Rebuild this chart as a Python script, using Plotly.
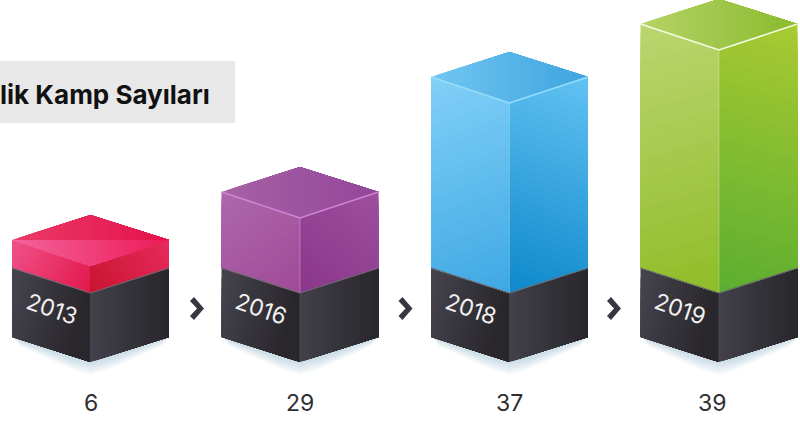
import plotly.graph_objects as go

# ---- data ----
years = ["2013", "2016", "2018", "2019"]
camp_counts = [6, 29, 37, 39]
drawn_heights = [27, 75, 190, 243]   # coloured block height as drawn (the artwork is not to scale)
title_text = "lik Kamp Sayıları"

# ---- styles / layout ----
W, H = 800, 421
FIRST_CX, STEP, HALF = 90.5, 209.5, 78.5
DEPTH = 26
JOIN_Y = 293      # front corner where colour meets dark base
BOTTOM_Y = 362
STRIPS = 30

styles = [
    dict(left=("#f0528a", "#e2184c"), right=("#e72a5c", "#c9142f"), top=("#ea3a68", "#e5124c"), rim=None),
    dict(left=("#ad68aa", "#a04a98"), right=("#9d4f9c", "#8a368c"), top=("#a862a5", "#92469a"), rim="#cf84d6"),
    dict(left=("#82d0f7", "#3ea8e4"), right=("#62c2f3", "#0e88ca"), top=("#72c6f1", "#3ea4e0"), rim="#97defb"),
    dict(left=("#bbd570", "#8fbd28"), right=("#a9ca32", "#5bae30"), top=("#b5d366", "#8abb2e"), rim="#f6fbe6"),
]
DARK_L = ("#46444e", "#29272b")
DARK_R = ("#42404a", "#29272b")


def rgb(h):
    return tuple(int(h[i:i + 2], 16) for i in (1, 3, 5))


def mix(c0, c1, t):
    a, b = rgb(c0), rgb(c1)
    return "rgb(%d,%d,%d)" % tuple(round(a[i] + (b[i] - a[i]) * t) for i in range(3))


def clip(poly, p0, d, lo):
    """Keep the part of poly whose projection on d is at least lo."""
    def f(p):
        return (p[0] - p0[0]) * d[0] + (p[1] - p0[1]) * d[1] - lo

    out = []
    for i in range(len(poly)):
        a, b = poly[i], poly[(i + 1) % len(poly)]
        fa, fb = f(a), f(b)
        if fa >= 0:
            out.append(a)
        if fa * fb < 0:
            t = fa / (fa - fb)
            out.append((a[0] + (b[0] - a[0]) * t, a[1] + (b[1] - a[1]) * t))
    return out


fig = go.Figure()


def poly_trace(pts, color):
    fig.add_trace(go.Scatter(
        x=[p[0] for p in pts] + [pts[0][0]],
        y=[p[1] for p in pts] + [pts[0][1]],
        mode="lines", fill="toself", fillcolor=color,
        line=dict(color=color, width=0),
        hoverinfo="skip", showlegend=False))


def face(poly, p0, p1, colors, n=STRIPS):
    """Painter's gradient: each band is drawn to the far end, the next one over it, so no seams show."""
    dx, dy = p1[0] - p0[0], p1[1] - p0[1]
    L2 = dx * dx + dy * dy
    d = (dx / L2, dy / L2)
    for k in range(n):
        pts = clip(poly, p0, d, k / n if k else -5)
        if len(pts) >= 3:
            poly_trace(pts, mix(colors[0], colors[1], (k + .5) / n))


def line(pts, color, width):
    fig.add_trace(go.Scatter(x=[p[0] for p in pts], y=[p[1] for p in pts], mode="lines",
                             line=dict(color=color, width=width),
                             hoverinfo="skip", showlegend=False))


for i, (yr, cnt, h) in enumerate(zip(years, camp_counts, drawn_heights)):
    st = styles[i]
    cx = FIRST_CX + i * STEP
    l, r = cx - HALF, cx + HALF
    front_top = JOIN_Y - h
    side_top = front_top - DEPTH
    back_top = side_top - DEPTH + 1
    side_join = JOIN_Y - DEPTH + 1
    side_bot = BOTTOM_Y - DEPTH + 1

    # soft shadow under the base
    for k in range(14):
        s = 1 - k / 13
        poly_trace([(l + 3 - 2 * s, side_bot), (l + 8, side_bot + 3 + 7 * s),
                    (cx - 20, BOTTOM_Y - 3 + 11 * s), (cx, BOTTOM_Y + 1 + 14 * s),
                    (cx + 20, BOTTOM_Y - 3 + 11 * s), (r - 8, side_bot + 3 + 7 * s),
                    (r - 3 + 5 * s, side_bot), (cx, side_bot)],
                   mix("#cfdfe8", "#ffffff", s ** 1.1))

    # dark base
    face([(l, side_join), (cx, JOIN_Y), (cx, BOTTOM_Y), (l, side_bot)],
         (l, side_join), (cx, side_join + 20), DARK_L)
    face([(cx, JOIN_Y), (r, side_join), (r, side_bot), (cx, BOTTOM_Y)],
         (cx, JOIN_Y), (r, JOIN_Y), DARK_R)

    # coloured block
    face([(l, side_top), (cx, front_top), (cx, JOIN_Y), (l, side_join)],
         (l, side_top), (cx, JOIN_Y), st["left"])
    face([(cx, front_top), (r, side_top), (r, side_join), (cx, JOIN_Y)],
         (r, side_top), (cx, JOIN_Y), st["right"])
    face([(l, side_top), (cx, back_top), (r, side_top), (cx, front_top)],
         (l, side_top), (r, side_top), st["top"])

    if i == 0:  # glossy lower half of the first lid
        face([(l, side_top), (r, side_top), (cx, front_top)],
             (l, side_top), (r, side_top), ("#f4649c", "#ec1a58"))

    if st["rim"]:
        line([(l, side_top), (cx, front_top), (r, side_top)], st["rim"], 1.6)
        line([(cx, front_top), (cx, JOIN_Y)], "rgba(255,255,255,0.28)", 1)
    line([(l, side_join), (cx, JOIN_Y), (r, side_join)], "#6b6a70", 1.1)
    line([(cx, JOIN_Y), (cx, BOTTOM_Y)], "rgba(90,88,98,0.45)", 1)

    fig.add_annotation(x=cx - 39, y=BOTTOM_Y - 53, text=yr, textangle=19, showarrow=False,
                       font=dict(family="Inter", size=23, color="#f2f2f2", weight=400))
    fig.add_annotation(x=(712 if i == 3 else cx), y=403, text=str(cnt), showarrow=False,
                       font=dict(family="Inter", size=23, color="#2e2e33", weight=400))

    if i < len(years) - 1:
        c = cx + 106.5 - i * 1
        poly_trace([(c - 7, 301), (c - 3, 297), (c + 7, 308.5), (c - 3, 320), (c - 7, 316), (c, 308.5)],
                   "#38363e")

fig.add_shape(type="rect", x0=-5, x1=235, y0=61, y1=123, fillcolor="#e8e8e8", line_width=0, layer="below")
fig.add_annotation(x=212, y=94, text="<b>%s</b>" % title_text, xanchor="right", showarrow=False,
                   font=dict(family="Inter", size=26, color="#111111"))

fig.update_layout(
    width=W, height=H, margin=dict(l=0, r=0, t=0, b=0),
    paper_bgcolor="white", plot_bgcolor="white", showlegend=False,
    xaxis=dict(range=[0, W], visible=False, fixedrange=True),
    yaxis=dict(range=[H, 0], visible=False, fixedrange=True),
)
fig.write_html("out.html", config={"displayModeBar": False},
               post_script="document.body.style.margin='0';")
